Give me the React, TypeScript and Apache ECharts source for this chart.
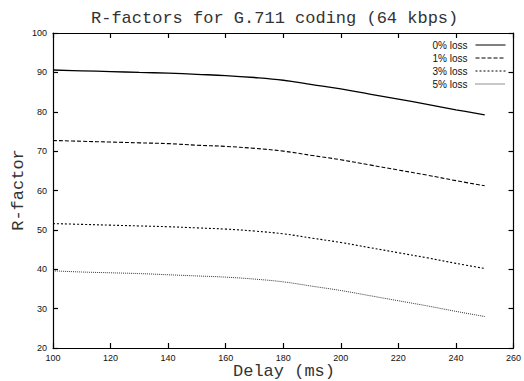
import React, { useEffect, useRef } from "react";
import * as echarts from "echarts";

const delays = [100, 110, 120, 130, 140, 150, 160, 170, 180, 190, 200, 210, 220, 230, 240, 250];
const loss0 = [90.6, 90.4, 90.2, 90.0, 89.8, 89.5, 89.2, 88.7, 88.0, 86.9, 85.8, 84.5, 83.2, 81.9, 80.5, 79.2];
const loss1 = [72.7, 72.5, 72.3, 72.1, 71.9, 71.5, 71.2, 70.7, 70.0, 68.9, 67.8, 66.5, 65.2, 63.9, 62.5, 61.2];
const loss3 = [51.6, 51.4, 51.2, 51.0, 50.8, 50.5, 50.2, 49.7, 49.0, 47.9, 46.8, 45.5, 44.2, 42.9, 41.5, 40.2];
const loss5 = [39.6, 39.3, 39.1, 38.9, 38.6, 38.3, 38.0, 37.5, 36.8, 35.7, 34.6, 33.3, 32.0, 30.7, 29.3, 28.0];
const seriesNames = ["0% loss", "1% loss", "3% loss", "5% loss"];
const title = "R-factors for G.711 coding (64 kbps)";
const xName = "Delay (ms)";
const yName = "R-factor";

const mono = "'Liberation Mono', 'DejaVu Sans Mono', monospace";
const sans = "'Liberation Sans', Arial, sans-serif";

export default function App() {
  const ref = useRef<HTMLDivElement>(null);
  useEffect(() => {
    if (!ref.current) return;
    const chart = echarts.init(ref.current, null, { renderer: "svg" });
    const allData = [loss0, loss1, loss3, loss5];
    const dashes: any[] = ["solid", [4, 2], [2, 2], [1, 1]];
    const widths = [1.3, 1.1, 1.1, 0.9];
    const colors = ["#000", "#000", "#000", "#222"];
    const axisBase = {
      type: "value" as const,
      axisLine: { show: true, lineStyle: { color: "#000", width: 1.2 } },
      axisTick: { show: true, inside: true, length: 5, lineStyle: { color: "#000", width: 1.2 } },
      splitLine: { show: false },
    };
    chart.setOption({
      animation: false,
      backgroundColor: "#fff",
      title: {
        text: title,
        left: 86,
        top: 5,
        textStyle: { fontFamily: mono, fontSize: 17, fontWeight: "normal", color: "#333" },
      },
      grid: { left: 53, right: 6, top: 33, bottom: 33, show: false },
      legend: {
        orient: "vertical",
        right: 18,
        top: 40,
        padding: 0,
        align: "right",
        itemWidth: 30,
        itemHeight: 8,
        itemGap: 3,
        data: seriesNames,
        itemStyle: { opacity: 0, borderWidth: 0 },
        lineStyle: { width: 1 },
        textStyle: { fontFamily: sans, fontSize: 10, color: "#111", padding: [0, 3, 0, 0] },
      },
      xAxis: [
        {
          ...axisBase,
          position: "bottom",
          min: 100,
          max: 260,
          interval: 20,
          axisLabel: { fontFamily: sans, fontSize: 9, color: "#111", margin: 5 },
        },
        {
          ...axisBase,
          position: "top",
          min: 100,
          max: 260,
          interval: 20,
          axisLabel: { show: false },
        },
      ],
      yAxis: [
        {
          ...axisBase,
          position: "left",
          min: 20,
          max: 100,
          interval: 10,
          axisLabel: { fontFamily: sans, fontSize: 9, color: "#111", margin: 6 },
        },
        {
          ...axisBase,
          position: "right",
          min: 20,
          max: 100,
          interval: 10,
          axisLabel: { show: false },
        },
      ],
      graphic: [
        {
          type: "text",
          x: 284,
          y: 371,
          style: { text: xName, fontFamily: mono, fontSize: 17, fill: "#333", align: "center", verticalAlign: "middle" },
        },
        {
          type: "text",
          x: 18,
          y: 190,
          rotation: Math.PI / 2,
          style: { text: yName, fontFamily: mono, fontSize: 17, fill: "#333", align: "center", verticalAlign: "middle" },
        },
      ],
      series: seriesNames.map((name, i) => ({
        name,
        type: "line",
        xAxisIndex: 0,
        yAxisIndex: 0,
        data: delays.map((d, j) => [d, allData[i][j]]),
        showSymbol: false,
        symbol: "none",
        smooth: 0.4,
        itemStyle: { color: colors[i] },
        lineStyle: { color: colors[i], width: widths[i], type: dashes[i] },
      })),
    });
    return () => chart.dispose();
  }, []);
  return (
    <div
      ref={ref}
      style={{ position: "absolute", left: 0, top: 0, width: 524, height: 381 }}
    />
  );
}
